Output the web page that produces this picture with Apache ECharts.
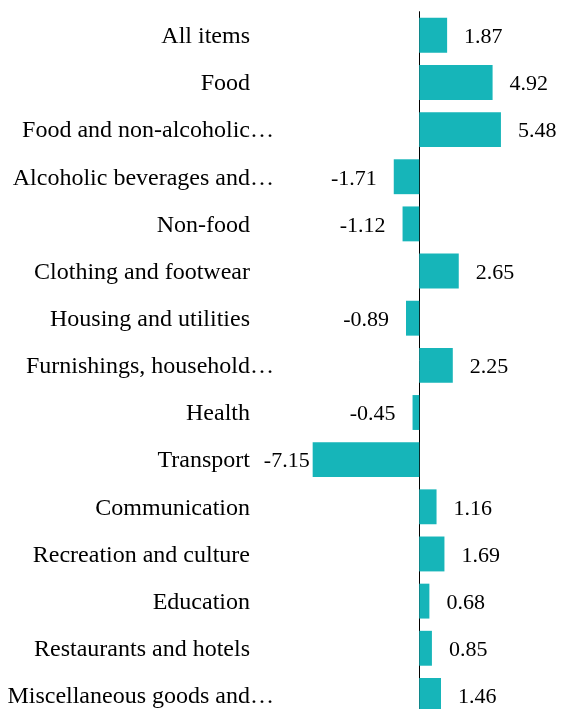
<!DOCTYPE html>
<html>
<head>
<meta charset="utf-8">
<script src="https://cdn.jsdelivr.net/npm/echarts@6/dist/echarts.min.js"></script>
<style>
html,body{margin:0;padding:0;background:#fff;}
#chart{width:561px;height:709px;}
</style>
</head>
<body>
<div id="chart"></div>
<script>
var categories = [
  "All items",
  "Food",
  "Food and non-alcoholic\u2026",
  "Alcoholic beverages and\u2026",
  "Non-food",
  "Clothing and footwear",
  "Housing and utilities",
  "Furnishings, household\u2026",
  "Health",
  "Transport",
  "Communication",
  "Recreation and culture",
  "Education",
  "Restaurants and hotels",
  "Miscellaneous goods and\u2026"
];
var values = [1.87, 4.92, 5.48, -1.71, -1.12, 2.65, -0.89, 2.25, -0.45, -7.15, 1.16, 1.69, 0.68, 0.85, 1.46];

var chart = echarts.init(document.getElementById('chart'), null, {renderer: 'canvas'});
var FONT = '"Liberation Serif", "Times New Roman", serif';

var seriesData = values.map(function (v, i) {
  if (categories[i] === 'Transport') {
    return {value: v, label: {distance: 3}};
  }
  return v;
});

chart.setOption({
  animation: false,
  backgroundColor: '#ffffff',
  grid: {left: 300, right: 22.5, top: 11.7, height: 707.3, containLabel: false, outerBoundsMode: 'none'},
  xAxis: {
    type: 'value',
    min: -8,
    max: 8,
    axisLine: {show: false},
    axisTick: {show: false},
    axisLabel: {show: false},
    splitLine: {show: false}
  },
  yAxis: {
    type: 'category',
    data: categories,
    inverse: true,
    axisLine: {show: true, onZero: true, lineStyle: {color: '#000', width: 1}},
    axisTick: {show: false},
    axisLabel: {
      margin: 26,
      fontFamily: FONT,
      fontSize: 24,
      color: '#000',
      formatter: function (val) {
        if (val.charAt(val.length - 1) === '\u2026') return '{t|' + val + '}';
        return '{n|' + val + '}';
      },
      rich: {
        t: {fontFamily: FONT, fontSize: 24, color: '#000', padding: [3, 0, 0, 0]},
        n: {fontFamily: FONT, fontSize: 24, color: '#000', padding: [3, 24, 0, 0]}
      }
    }
  },
  series: [{
    type: 'bar',
    data: seriesData,
    barCategoryGap: '26%',
    itemStyle: {color: '#16b5b9'},
    label: {
      show: true,
      position: 'outside',
      distance: 17,
      offset: [0, 2],
      fontFamily: FONT,
      fontSize: 22,
      color: '#000',
      formatter: function (p) { return p.value.toFixed(2); }
    }
  }]
});
</script>
</body>
</html>
